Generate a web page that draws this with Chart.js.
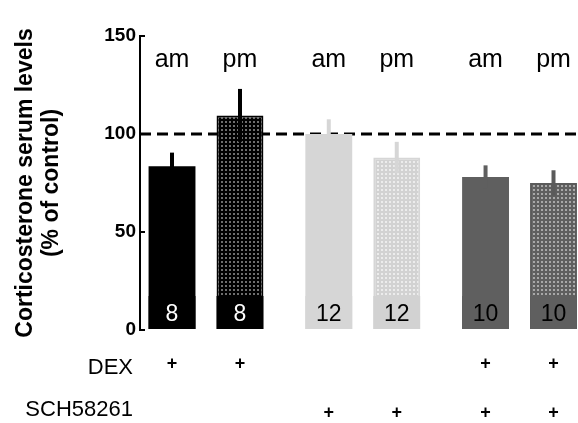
<!DOCTYPE html>
<html>
<head>
<meta charset="utf-8">
<script src="https://cdn.jsdelivr.net/npm/chart.js@4.4.0/dist/chart.umd.min.js"></script>
<style>
  html, body { margin: 0; padding: 0; background: #fff; }
</style>
</head>
<body>
<canvas id="myChart" width="578" height="423"></canvas>
<script>
// groups of two bars (am / pm)
const groups = ['DEX', 'SCH58261', 'DEX + SCH58261'];
const amValues = [83.5, 100, 78];
const pmValues = [109.5, 88, 75];
const amErrors = [7, 7.5, 6];
const pmErrors = [13.5, 8, 6.5];
const amCounts = ['8', '12', '10'];
const pmCounts = ['8', '12', '10'];
const dexRow = ['+', '', '+'];
const schRow = ['', '+', '+'];
const rowLabels = ['DEX', 'SCH58261'];
const controlLevel = 100;

const FONT = '"Liberation Sans", Arial, Helvetica, sans-serif';
const canvas = document.getElementById('myChart');
const ctx = canvas.getContext('2d');

// dotted fill for the pm bars
function dotted(base, dot) {
  const tile = document.createElement('canvas');
  tile.width = 4; tile.height = 4;
  const g = tile.getContext('2d');
  g.fillStyle = base;
  g.fillRect(0, 0, 4, 4);
  g.fillStyle = dot;
  g.fillRect(1, 1, 2, 2);
  return ctx.createPattern(tile, 'repeat');
}

const amFill = ['#000000', '#d6d6d6', '#5f5f5f'];
const pmBase = ['#000000', '#d2d2d2', '#5f5f5f'];
const pmFill = [dotted('#000000', '#6e6e6e'), dotted('#d2d2d2', '#ececec'), dotted('#5f5f5f', '#a8a8a8')];
const pmEdge = ['#000000', '#d6d6d6', '#5a5a5a'];
const countColor = ['#ffffff', '#000000', '#000000'];

const extras = {
  id: 'extras',
  beforeDatasetsDraw(chart) {
    const { ctx, chartArea, scales: { y } } = chart;
    const yc = y.getPixelForValue(controlLevel);
    ctx.save();
    ctx.strokeStyle = '#000';
    ctx.lineWidth = 3;
    ctx.setLineDash([11, 6]);
    ctx.beginPath();
    ctx.moveTo(chartArea.left, yc);
    ctx.lineTo(chartArea.right, yc);
    ctx.stroke();
    ctx.restore();
  },
  afterDatasetsDraw(chart) {
    const { ctx, chartArea, scales: { y } } = chart;
    const sets = [
      { vals: amValues, errs: amErrors, counts: amCounts, base: amFill, err: amFill, tag: 'am' },
      { vals: pmValues, errs: pmErrors, counts: pmCounts, base: pmBase, err: pmEdge, tag: 'pm' }
    ];
    ctx.save();
    sets.forEach((s, d) => {
      chart.getDatasetMeta(d).data.forEach((bar, i) => {
        const half = bar.width / 2;
        // error bar
        ctx.strokeStyle = s.err[i];
        ctx.lineWidth = 4;
        ctx.beginPath();
        ctx.moveTo(bar.x, y.getPixelForValue(s.vals[i] + s.errs[i]));
        ctx.lineTo(bar.x, y.getPixelForValue(s.vals[i] - s.errs[i]));
        ctx.stroke();
        // n box
        ctx.fillStyle = s.base[i];
        ctx.fillRect(bar.x - half, bar.base - 33, bar.width, 33);
        ctx.fillStyle = countColor[i];
        ctx.font = '23px ' + FONT;
        ctx.textAlign = 'center';
        ctx.textBaseline = 'alphabetic';
        ctx.fillText(s.counts[i], bar.x, bar.base - 8);
        // am / pm
        ctx.fillStyle = '#000';
        ctx.font = '25px ' + FONT;
        ctx.fillText(s.tag, bar.x, chartArea.top + 31);
        // treatment rows
        ctx.font = 'bold 18px ' + FONT;
        ctx.fillText(dexRow[i], bar.x, chartArea.bottom + 39);
        ctx.fillText(schRow[i], bar.x, chartArea.bottom + 88);
      });
    });
    ctx.font = '22px ' + FONT;
    ctx.textAlign = 'right';
    ctx.fillText(rowLabels[0], chartArea.left - 7, chartArea.bottom + 44);
    ctx.fillText(rowLabels[1], chartArea.left - 7, chartArea.bottom + 86);
    ctx.restore();
  }
};

new Chart(ctx, {
  type: 'bar',
  data: {
    datasets: [
      {
        label: 'am',
        data: amValues.map((v, i) => ({ x: i, y: v })),
        backgroundColor: amFill,
        borderWidth: 0,
        categoryPercentage: 0.867,
        barPercentage: 0.69
      },
      {
        label: 'pm',
        data: pmValues.map((v, i) => ({ x: i, y: v })),
        backgroundColor: pmFill,
        borderColor: pmEdge,
        borderWidth: 2,
        categoryPercentage: 0.867,
        barPercentage: 0.69
      }
    ]
  },
  options: {
    responsive: false,
    animation: false,
    layout: { padding: { top: 36, right: 0, bottom: 93, left: 0 } },
    plugins: { legend: { display: false }, tooltip: { enabled: false } },
    scales: {
      x: {
        type: 'linear',
        min: -0.421,
        max: 2.373,
        offset: false,
        display: false,
        afterBuildTicks(scale) { scale.ticks = groups.map((g, i) => ({ value: i })); }
      },
      y: {
        min: 0,
        max: 150,
        ticks: { stepSize: 50, color: '#000', padding: 9, font: { family: FONT, size: 19, weight: 'bold' } },
        grid: { drawOnChartArea: false, tickLength: -5, color: '#000', lineWidth: 2 },
        border: { color: '#000', width: 2 },
        title: {
          display: true,
          text: ['Corticosterone serum levels', '(% of control)'],
          color: '#000',
          font: { family: FONT, size: 23, weight: 'bold', lineHeight: 1.15 },
          padding: { top: 12, bottom: 0 }
        },
        afterFit(scale) { scale.width = 140; }
      }
    }
  },
  plugins: [extras]
});
</script>
</body>
</html>
